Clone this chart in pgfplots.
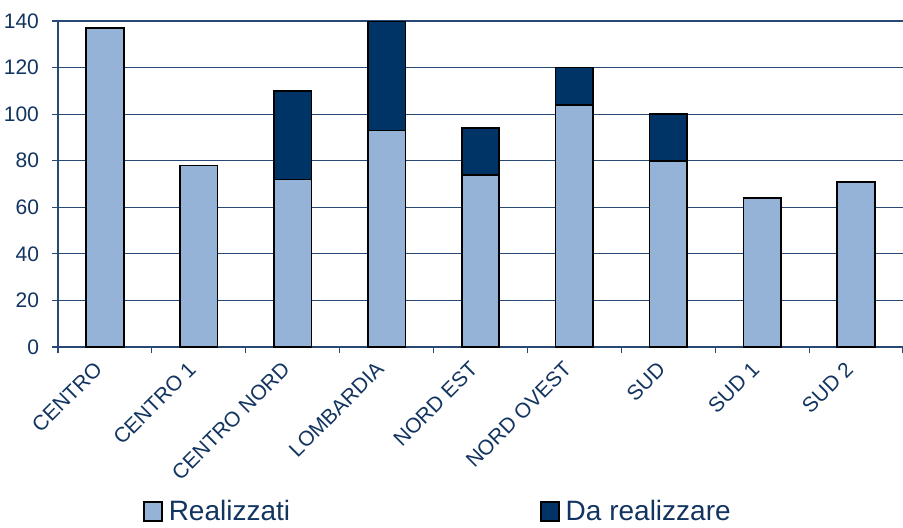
\documentclass[border=0pt]{standalone}
\usepackage{pgfplots}
\pgfplotsset{compat=1.18}
\usepackage{fontspec}
\setmainfont{Liberation Sans}
\definecolor{light}{RGB}{149,179,215}
\definecolor{dark}{RGB}{0,51,102}
\definecolor{txt}{RGB}{18,52,96}
\definecolor{gridc}{RGB}{40,72,118}
\begin{document}
\begin{tikzpicture}
\path[use as bounding box] (-29pt,-90pt) rectangle (422.5pt,173.5pt);
\begin{axis}[
  at={(0,0)}, anchor=south west,
  scale only axis, width=422.5pt, height=163pt,
  ybar, bar width=0.4, bar shift=0pt,
  xmin=-0.5, xmax=8.5, ymin=0, ymax=140,
  ytick={0,20,...,140},
  xtick={0,...,8},
  xticklabels={CENTRO,CENTRO 1,CENTRO NORD,LOMBARDIA,NORD EST,NORD OVEST,SUD,SUD 1,SUD 2},
  major x tick style={draw=none},
  minor xtick={-0.5,0.5,...,8.5},
  minor tick length=3pt,
  major tick length=3pt,
  tick align=outside,
  axis x line*=bottom, axis y line*=left,
  axis line style={gridc, line width=0.6pt},
  every tick/.style={gridc, line width=0.6pt},
  ymajorgrids, grid style={gridc, line width=0.6pt},
  tick label style={font=\fontsize{10.5}{12}\selectfont, text=txt},
  /pgf/number format/assume math mode=true,
  xticklabel style={xshift=-6pt, yshift=-2pt, rotate=45, anchor=north east, inner sep=1pt},
  yticklabel style={xshift=-3pt},
  legend style={at={(0.452,-0.506)}, anchor=center, draw=none, fill=none,
    legend columns=2, font=\fontsize{14}{16}\selectfont, text=txt,
    /tikz/every even column/.append style={column sep=122pt},
    nodes={inner sep=3pt}},
  legend image code/.code={\draw[#1, draw=black, line width=0.8pt] (-1pt,-4.5pt) rectangle (8pt,5pt);},
]
% totals (Realizzati + Da realizzare) for the stacked categories
\addplot[fill=dark, draw=black, line width=0.85pt, forget plot] coordinates {(2,110) (3,140) (4,94) (5,120) (6,100)};
% Realizzati
\addplot[fill=light, draw=black, line width=0.85pt] coordinates {(0,137) (1,78) (2,72) (3,93) (4,74) (5,104) (6,80) (7,64) (8,71)};
\addlegendentry{Realizzati}
\addlegendimage{fill=dark}
\addlegendentry{Da realizzare}
\end{axis}
\end{tikzpicture}
\end{document}
